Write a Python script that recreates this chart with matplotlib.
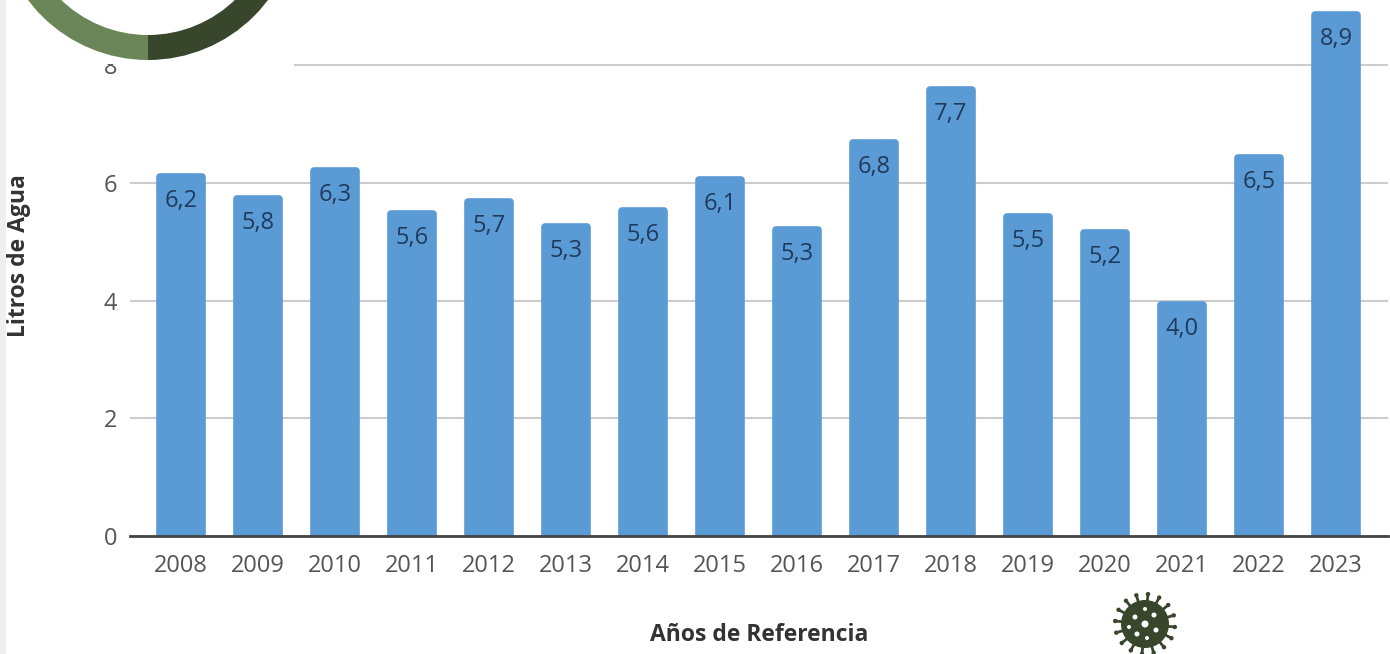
#!/usr/bin/env python3
"""Litros de agua por año de referencia, barras con anillo e icono decorativos."""

import math

import matplotlib

matplotlib.use("Agg")
import matplotlib.pyplot as plt
from matplotlib.patches import Circle, Rectangle, Wedge

W, H = 1390, 654

years = ["2008", "2009", "2010", "2011", "2012", "2013", "2014", "2015",
         "2016", "2017", "2018", "2019", "2020", "2021", "2022", "2023"]
heights = [6.17, 5.80, 6.27, 5.54, 5.75, 5.32, 5.59, 6.12,
           5.27, 6.75, 7.65, 5.49, 5.22, 3.99, 6.49, 8.92]
labels = ["6,2", "5,8", "6,3", "5,6", "5,7", "5,3", "5,6", "6,1",
          "5,3", "6,8", "7,7", "5,5", "5,2", "4,0", "6,5", "8,9"]
yticks = [0, 2, 4, 6, 8]

BAR = "#5b9bd5"
LABEL = "#1f3a5c"
TICK = "#555555"
CORNER = 0.065  # the thick round edge adds this much above each bar

plt.rcParams["font.family"] = ["Open Sans", "DejaVu Sans"]

fig = plt.figure(figsize=(W / 100, H / 100), dpi=100, facecolor="white")
ax = fig.add_axes([130 / W, (H - 536) / H, (1388 - 130) / W, 536 / H])

x = list(range(len(years)))
ax.bar(x, [h - CORNER for h in heights], width=0.55, color=BAR, edgecolor=BAR,
       linewidth=5.5, joinstyle="round", zorder=3)
for i, (h, lab) in enumerate(zip(heights, labels)):
    ax.annotate(lab, (i, h), xytext=(0, -20), textcoords="offset points",
                ha="center", va="center", fontsize=17, color=LABEL, zorder=5)

ax.set_xlim(-0.662, 15.675)
ax.set_ylim(0, 536 / 58.83)
ax.set_yticks(yticks)
ax.set_xticks(x, years)
ax.grid(axis="y", color="#cccccc", linewidth=1.5, zorder=0)
ax.set_axisbelow(True)
ax.tick_params(axis="both", length=0, labelsize=17, labelcolor=TICK)
ax.tick_params(axis="x", pad=13)
ax.tick_params(axis="y", pad=9)
for name, spine in ax.spines.items():
    spine.set_visible(name == "bottom")
ax.spines["bottom"].set_color("#444444")
ax.spines["bottom"].set_linewidth(2)
ax.spines["bottom"].set_zorder(4)

fig.text(759 / W, 1 - 635 / H, "Años de Referencia", ha="center", va="center",
         fontsize=16.5, fontweight="bold", color="#333333")
fig.text(19 / W, 1 - 256 / H, "Litros de Agua", rotation=90, ha="center",
         va="center", fontsize=16.5, fontweight="bold", color="#333333")

# capa decorativa en coordenadas de píxel
deco = fig.add_axes([0, 0, 1, 1], facecolor="none")
deco.set_xlim(0, W)
deco.set_ylim(H, 0)
deco.axis("off")
deco.add_patch(Rectangle((0, 0), 294, 64, color="white", lw=0))
deco.add_patch(Rectangle((125, 0), 169, 68, color="white", lw=0))
deco.add_patch(Rectangle((0, 0), 6, H, color="#efefef", lw=0))
# y invertida: 90 grados apunta hacia abajo
deco.add_patch(Wedge((148, -90), 150, 90, 180, width=25, color="#6a8558", lw=0))
deco.add_patch(Wedge((148, -90), 150, 0, 90, width=25, color="#38462b", lw=0))

VIRUS = "#38462b"
cx, cy = 1145, 624
deco.add_patch(Circle((cx, cy), 24, color=VIRUS, lw=0))
for k in range(16):
    a = 2 * math.pi * k / 16 + 0.1
    deco.plot([cx + 20 * math.cos(a), cx + 30 * math.cos(a)],
              [cy + 20 * math.sin(a), cy + 30 * math.sin(a)],
              color=VIRUS, lw=2, solid_capstyle="round")
    deco.add_patch(Circle((cx + 30 * math.cos(a), cy + 30 * math.sin(a)), 2.2, color=VIRUS, lw=0))
for dx, dy, r in [(0, 0, 3.5), (-10, -7, 2.5), (9, -9, 2.5), (11, 6, 2.5), (-8, 10, 2.5), (2, 14, 2), (0, -15, 2), (-16, 3, 2)]:
    deco.add_patch(Circle((cx + dx, cy + dy), r, color="white", lw=0))

fig.savefig("out.png", dpi=100)
